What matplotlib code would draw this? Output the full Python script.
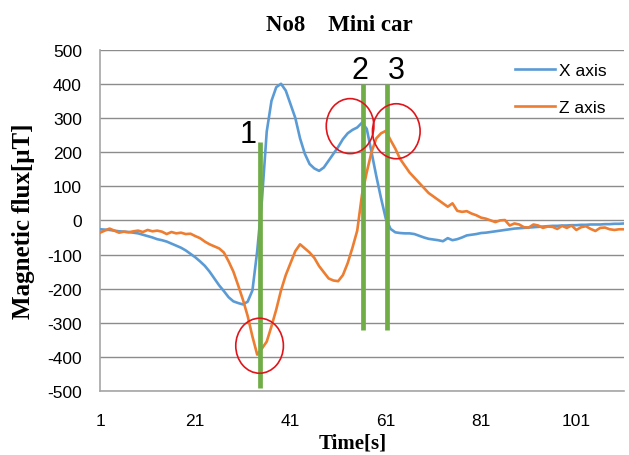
import matplotlib
matplotlib.use("Agg")
import matplotlib.pyplot as plt
from matplotlib.patches import Ellipse
import numpy as np

plt.rcParams["axes.unicode_minus"] = False

# time index 1..111
t = np.arange(1, 112)

x_axis = [-26, -27, -28, -30, -32, -33, -34, -36, -38, -42,
          -46, -50, -55, -58, -62, -68, -74, -80, -88, -98,
          -108, -120, -133, -150, -170, -190, -207, -225, -237, -242,
          -246, -238, -205, -90, 60, 260, 350, 390, 400, 380,
          340, 300, 240, 195, 165, 152, 145, 155, 175, 195,
          215, 238, 255, 265, 272, 286, 268, 200, 130, 65,
          5, -25, -35, -37, -38, -38, -40, -45, -50, -54,
          -56, -58, -61, -52, -58, -55, -50, -44, -42, -40,
          -37, -36, -34, -32, -30, -28, -26, -24, -23, -22,
          -21, -20, -19, -18, -17, -16, -16, -15, -15, -14,
          -14, -13, -13, -12, -12, -12, -11, -11, -10, -10, -9]

z_axis = [-36, -30, -24, -30, -36, -33, -35, -32, -30, -34,
          -28, -32, -30, -33, -40, -34, -38, -36, -40, -39,
          -46, -52, -62, -70, -76, -82, -94, -120, -150, -190,
          -232, -280, -340, -393, -375, -355, -310, -261, -205, -160,
          -125, -90, -70, -82, -94, -110, -134, -152, -170, -176,
          -178, -160, -125, -80, -30, 75, 141, 200, 240, 255,
          262, 235, 210, 180, 160, 140, 125, 110, 95, 80,
          70, 60, 50, 40, 50, 28, 25, 27, 20, 15,
          8, 5, 0, -5, 0, 1, -15, -9, -12, -20,
          -21, -12, -15, -22, -18, -19, -25, -16, -22, -15,
          -28, -20, -17, -25, -31, -22, -21, -26, -28, -26, -26]

# marker bars: (time, top, bottom, label)
marks_t = [34.5, 56.2, 61.3]
marks_top = [229, 399, 399]
marks_bot = [-490, -322, -322]
mark_labels = ["1", "2", "3"]
label_pos = [(32.2, 252), (55.6, 441), (63.2, 441)]

# red circles (centre time, centre value)
circles = [(34.5, -367), (53.5, 276), (63.2, 261)]

fig = plt.figure(figsize=(6.29, 4.56), dpi=100)
ax = fig.add_axes([0.159, 0.140, 0.833, 0.749])

ax.plot(t, x_axis, color="#5B9BD5", lw=1.9, label="X axis", zorder=3)
ax.plot(t, z_axis, color="#ED7D31", lw=1.9, label="Z axis", zorder=3)

ax.vlines(marks_t, marks_bot, marks_top, color="#70AD47", lw=3.4, zorder=4)
for lab, (lx, ly) in zip(mark_labels, label_pos):
    ax.text(lx, ly, lab, fontsize=22, family="Liberation Sans",
            ha="center", va="center", zorder=5)

for cx, cy in circles:
    ax.add_patch(Ellipse((cx, cy), 10, 161, fill=False, ec="#E0151B",
                         lw=1.2, zorder=5))

ax.set_xlim(1, 111)
ax.set_ylim(-500, 500)
ax.set_xticks([1, 21, 41, 61, 81, 101])
ax.set_yticks(range(-500, 501, 100))
ax.tick_params(length=0, labelsize=12.5)
ax.tick_params(axis="y", pad=13)
ax.tick_params(axis="x", pad=16)
for lbl in ax.get_xticklabels() + ax.get_yticklabels():
    lbl.set_family("Liberation Sans")

ax.grid(axis="y", color="#8C8C8C", lw=1.0)
ax.set_axisbelow(True)
for s in ["top", "right"]:
    ax.spines[s].set_visible(False)
for s in ["left", "bottom"]:
    ax.spines[s].set_color("#A6A6A6")
    ax.spines[s].set_linewidth(1.2)

fig.text(0.54, 0.945, "No8    Mini car", fontsize=16.5, fontweight="bold",
         family="Liberation Serif", ha="center", va="center")
fig.text(0.038, 0.515, "Magnetic flux[\u03bcT]", fontsize=18, fontweight="bold",
         family="Liberation Serif", ha="center", va="center", rotation=90)
fig.text(0.56, 0.028, "Time[s]", fontsize=15, fontweight="bold",
         family="Liberation Serif", ha="center", va="center")

leg = ax.legend(loc="center left", bbox_to_anchor=(0.819, 0.803),
                bbox_transform=fig.transFigure, frameon=False,
                borderpad=0, borderaxespad=0, handlelength=2.3,
                handletextpad=0.2, labelspacing=1.25,
                prop={"family": "Liberation Sans", "size": 12.5})

fig.savefig("out.png", dpi=100)
